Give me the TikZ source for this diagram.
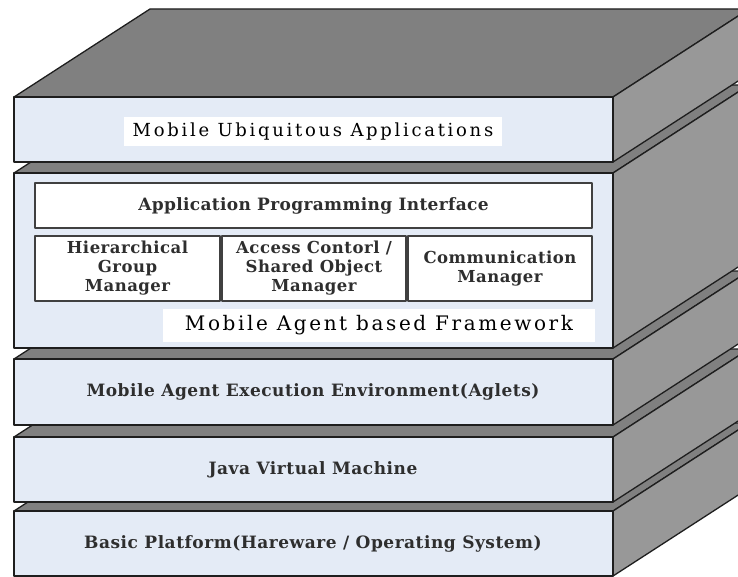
\documentclass[tikz,border=0pt]{standalone}
\usepackage{fontspec}
\setmainfont{DejaVu Serif}
\definecolor{frontc}{HTML}{E4EBF6}
\definecolor{topc}{HTML}{808080}
\definecolor{sidec}{HTML}{989898}
\definecolor{edgec}{HTML}{1E1E1E}
\definecolor{txtc}{HTML}{2E2E2E}
\tikzset{
  edge/.style={draw=edgec, line width=1.3pt, line join=round},
  layertext/.style={text=txtc, inner sep=0pt, font=\fontsize{17}{20}\selectfont\bfseries\addfontfeature{LetterSpace=3}},
  bigtext/.style={text=black, fill=white, inner sep=0pt},
  inbox/.style={edge, fill=white, line width=1.2pt, draw=black!75, inner sep=0pt, align=center, text=txtc, font=\fontsize{16.5}{19}\selectfont\bfseries\addfontfeature{LetterSpace=3}},
}
\newcommand{\mylayer}[2]{%
  \path[edge, fill=topc] (14,#1) -- (150,#1-88) -- (749,#1-88) -- (613,#1) -- cycle;
  \path[edge, fill=sidec] (613,#1) -- (749,#1-88) -- (749,#2-88) -- (613,#2) -- cycle;
  \path[edge, fill=frontc] (14,#1) rectangle (613,#2);
}
\begin{document}
\begin{tikzpicture}[x=1pt,y=-1pt]
\useasboundingbox (0,0) rectangle (738,577);
\clip (0,0) rectangle (738,577);
\fill[white] (0,0) rectangle (738,577);
\mylayer{511}{576}
\mylayer{437}{502}
\mylayer{359}{425}
\mylayer{173}{348}
\mylayer{97}{162}
% top layer
\node[bigtext, minimum width=378pt, minimum height=29pt, font=\fontsize{18}{20}\selectfont\addfontfeature{LetterSpace=15}] (mua) at (313,131.5) {Mobile Ubiquitous Applications};
% framework layer
\node[inbox, minimum width=557pt, minimum height=45pt, font=\fontsize{17}{20}\selectfont\bfseries\addfontfeature{LetterSpace=2}] (api) at (313.5,205.5) {Application Programming Interface};
\node[inbox, minimum width=185pt, minimum height=65pt] (hgm) at (127.5,268.5) {Hierarchical\\Group\\Manager};
\node[inbox, minimum width=184pt, minimum height=65pt] (acm) at (314,268.5) {Access Contorl /\\Shared Object\\Manager};
\node[inbox, minimum width=184pt, minimum height=65pt] (cm) at (500,268.5) {Communication\\Manager};
\node[bigtext, minimum width=432pt, minimum height=33pt, font=\fontsize{20}{22}\selectfont\addfontfeature{LetterSpace=13}] (maf) at (379,325.5) {Mobile Agent based Framework};
% lower layers
\node[layertext] (mae) at (313,392) {Mobile Agent Execution Environment(Aglets)};
\node[layertext] (jvm) at (313,469.5) {Java Virtual Machine};
\node[layertext] (bp) at (313,543.5) {Basic Platform(Hareware / Operating System)};
\end{tikzpicture}
\end{document}
